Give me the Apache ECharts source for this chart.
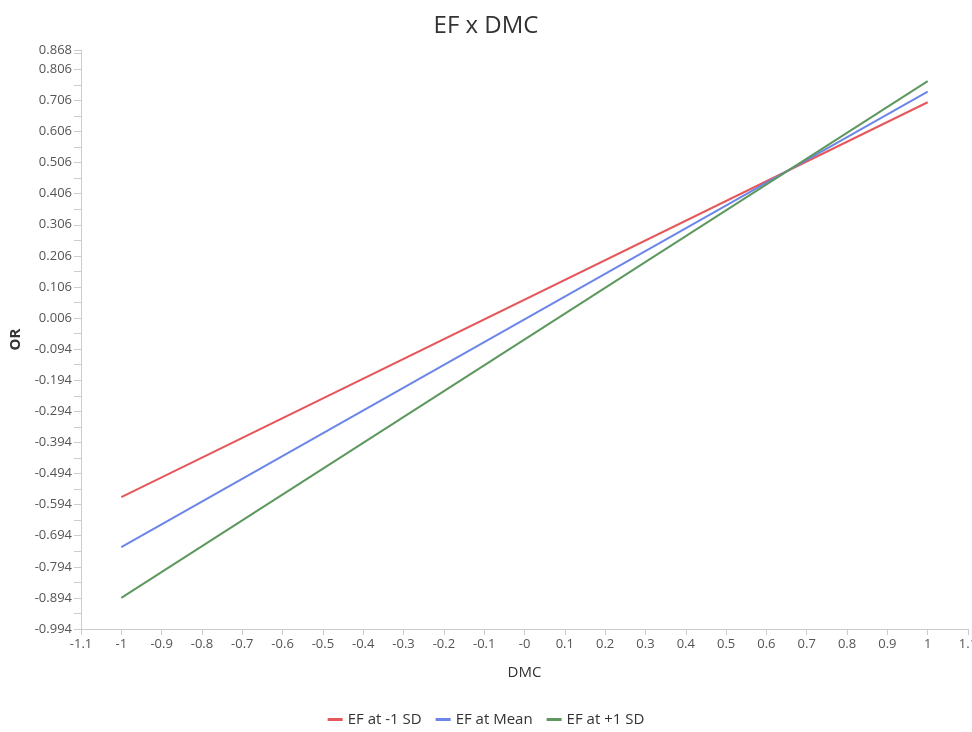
<!DOCTYPE html>
<html>
<head>
<meta charset="utf-8">
<script src="https://cdn.jsdelivr.net/npm/echarts@6/dist/echarts.min.js"></script>
<style>
  html, body { margin: 0; padding: 0; background: #fff; }
  #chart { width: 972px; height: 732px; }
</style>
</head>
<body>
<div id="chart"></div>
<script>
  // x values of the two ends of each line
  var xValues = [-1, 1];
  var seriesNames = ['EF at -1 SD', 'EF at Mean', 'EF at +1 SD'];
  var lowSD = [-0.570, 0.700];
  var meanSD = [-0.731, 0.734];
  var highSD = [-0.894, 0.768];
  var colorList = ['#e5575a', '#6b86e8', '#5e985e'];

  var font = '"Open Sans", "Noto Sans", sans-serif';
  var chart = echarts.init(document.getElementById('chart'));

  function toPairs(vals) {
    return xValues.map(function (x, i) { return [x, vals[i]]; });
  }

  var allData = [lowSD, meanSD, highSD];
  var series = seriesNames.map(function (name, i) {
    return {
      name: name,
      type: 'line',
      data: toPairs(allData[i]),
      symbol: 'none',
      lineStyle: { color: colorList[i], width: 2 },
      itemStyle: { color: colorList[i] }
    };
  });

  chart.setOption({
    animation: false,
    textStyle: { fontFamily: font },
    title: {
      text: 'EF x DMC',
      left: 'center',
      top: 9,
      textStyle: { fontSize: 24, fontWeight: 'normal', color: '#333', fontFamily: font }
    },
    legend: {
      bottom: 0,
      left: 'center',
      icon: 'rect',
      itemWidth: 15,
      itemHeight: 3,
      itemGap: 14,
      textStyle: { fontSize: 15, color: '#333', fontFamily: font },
      data: seriesNames
    },
    grid: {
      left: 81,
      right: 4,
      top: 50,
      bottom: 103,
      containLabel: false,
      outerBoundsMode: 'none'
    },
    xAxis: {
      type: 'value',
      min: -1.1,
      max: 1.1,
      interval: 0.1,
      name: 'DMC',
      nameLocation: 'middle',
      nameGap: 36,
      nameTextStyle: { fontSize: 15, color: '#333' },
      axisLine: { onZero: false, lineStyle: { color: '#ccc' } },
      axisTick: { show: true, length: 6, lineStyle: { color: '#ccc' } },
      axisLabel: {
        color: '#555',
        fontSize: 13,
        margin: 9,
        showMinLabel: true,
        showMaxLabel: true,
        formatter: function (v) {
          if (Math.abs(v) < 1e-9) return '-0';
          return String(+v.toFixed(1));
        }
      },
      splitLine: { show: false }
    },
    yAxis: {
      type: 'value',
      min: -0.994,
      max: 0.868,
      interval: 0.1,
      name: 'OR',
      nameLocation: 'middle',
      nameGap: 58,
      nameTextStyle: { fontSize: 15, color: '#333', fontWeight: 'bold' },
      axisLine: { show: true, onZero: false, lineStyle: { color: '#ccc' } },
      axisTick: { show: true, length: 7, lineStyle: { color: '#ccc' } },
      minorTick: { show: true, splitNumber: 2, length: 7, lineStyle: { color: '#ccc' } },
      axisLabel: {
        color: '#555',
        fontSize: 13,
        margin: 9,
        showMinLabel: true,
        showMaxLabel: true,
        formatter: function (v) { return v.toFixed(3); }
      },
      splitLine: { show: false }
    },
    series: series
  });
</script>
</body>
</html>
